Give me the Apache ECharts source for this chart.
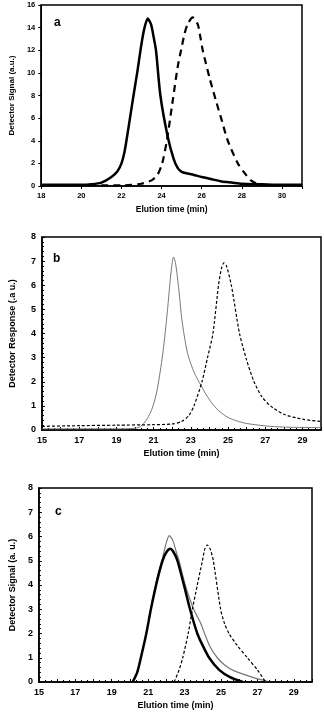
<!DOCTYPE html>
<html><head><meta charset="utf-8">
<script src="https://cdn.jsdelivr.net/npm/echarts@6/dist/echarts.min.js"></script>
<style>html,body{margin:0;padding:0;background:#fff}#c{width:324px;height:713px}</style>
</head><body><div id="c"></div>
<script>
// Panel a
const aSolidX = [18,19,20,20.5,21,21.5,21.8,22.0,22.15,22.3,22.45,22.6,22.8,23.0,23.15,23.31,23.47,23.6,23.72,23.94,24.3,24.6,24.8,25.0,25.3,25.6,26,26.5,27,27.5,28,29,30,31];
const aSolidY = [0.1,0.1,0.1,0.15,0.3,0.8,1.3,2.0,3.0,4.6,6.3,8.0,10.2,12.6,14.0,14.8,14.3,13.2,12.0,8.0,4.4,2.4,1.6,1.25,1.1,0.98,0.8,0.6,0.4,0.3,0.2,0.15,0.1,0.1];
const aDashX = [18,20,21,22,22.5,23,23.5,23.8,24.03,24.26,24.56,24.8,24.97,25.15,25.3,25.55,25.8,25.95,26.05,26.4,26.7,27.0,27.3,27.8,28.2,28.45,28.7,29,30,31];
const aDashY = [0.05,0.05,0.05,0.05,0.1,0.2,0.5,1.0,2.0,4.0,7.6,10.5,12.0,13.5,14.3,14.9,14.3,13.0,12.0,9.5,7.6,5.8,4.0,2.0,1.0,0.5,0.25,0.1,0.05,0.05];
// Panel b
const bSolidX = [15,17,19,20,20.3,20.6,20.85,21.05,21.2,21.35,21.5,21.62,21.75,21.88,21.97,22.07,22.17,22.27,22.4,22.5,22.65,22.82,23.0,23.2,23.45,23.8,24.1,24.5,25.0,25.5,26,27,28,30];
const bSolidY = [0.05,0.05,0.05,0.07,0.15,0.4,0.75,1.2,1.7,2.4,3.2,4.0,5.0,6.1,6.75,7.17,6.95,6.4,5.5,4.7,3.9,3.2,2.75,2.35,1.98,1.5,1.15,0.8,0.52,0.37,0.27,0.17,0.12,0.1];
const bDashX = [15,17,19,21,22,22.5,22.9,23.17,23.6,23.9,24.19,24.49,24.65,24.78,24.92,25.18,25.62,26.0,26.4,26.8,27.28,28,29,30];
const bDashY = [0.15,0.18,0.2,0.22,0.25,0.35,0.6,1.0,2.0,3.0,4.0,6.0,6.7,6.93,6.8,6.0,4.0,2.9,2.0,1.4,1.0,0.65,0.45,0.35];
// Panel c
const cBlackX = [20.15,20.4,20.6,20.9,21.15,21.5,21.79,22.0,22.21,22.4,22.61,23.0,23.3,23.7,24.0,24.35,24.9,25.5,26.2];
const cBlackY = [0,0.4,1.0,2.0,3.0,4.2,5.0,5.35,5.49,5.35,5.0,3.9,3.0,2.0,1.5,1.0,0.5,0.2,0];
const cGreyX = [20.15,20.4,20.6,20.9,21.15,21.5,21.75,22.0,22.16,22.35,22.55,22.7,22.9,23.1,23.3,23.5,23.7,23.9,24.1,24.4,24.8,25.2,25.7,26.5,27.0,27.5];
const cGreyY = [0,0.4,1.0,2.0,3.0,4.3,5.0,5.75,6.04,5.85,5.35,5.0,4.4,3.85,3.4,3.0,2.7,2.4,2.0,1.45,1.0,0.7,0.47,0.25,0.13,0.05];
const cDashX = [22.43,22.7,22.9,23.2,23.43,23.7,23.98,24.12,24.25,24.4,24.58,24.98,25.2,25.44,25.9,26.45,27.0,27.45];
const cDashY = [0,0.5,1.0,2.0,3.0,4.0,5.0,5.5,5.65,5.5,5.0,3.0,2.4,2.0,1.5,1.0,0.5,0];

const xNameA = 'Elution time (min)';
const yNameA = 'Detector Signal (a.u.)';
const yNameB = 'Detector Response (.a u.)';
const yNameC = 'Detector Signal (a. u.)';

const zip = (xs, ys) => xs.map((x, i) => [x, ys[i]]);
const FONT = 'Liberation Sans, Arial, sans-serif';

function xAx(idx, min, max, interval, fs, nameFs, minorN, oddOnly, inside, hideMax) {
  return {
    type: 'value', gridIndex: idx, min: min, max: max, interval: interval,
    name: xNameA, nameLocation: 'middle', nameGap: 19,
    nameTextStyle: {fontFamily: FONT, fontWeight: 'bold', fontSize: nameFs, color: '#000'},
    axisLine: {lineStyle: {color: '#000', width: 1.5}},
    axisTick: {show: true, inside: inside, length: 3, lineStyle: {color: '#000', width: 1}},
    minorTick: {show: minorN > 0, splitNumber: minorN || 5, length: 2, lineStyle: {color: '#000', width: 1}},
    splitLine: {show: false},
    axisLabel: {fontFamily: FONT, fontWeight: 'bold', fontSize: fs, color: '#000', margin: 6,
      formatter: v => {
        if (hideMax && v === max) return '';
        if (oddOnly && (Math.round(v) % 2 === 0)) return '';
        return String(v);
      }}
  };
}
function yAx(idx, max, interval, fs, name, nameFs, gap, minorN, inside) {
  return {
    type: 'value', gridIndex: idx, min: 0, max: max, interval: interval,
    name: name, nameLocation: 'middle', nameGap: gap,
    nameTextStyle: {fontFamily: FONT, fontWeight: 'bold', fontSize: nameFs, color: '#000'},
    axisLine: {show: true, lineStyle: {color: '#000', width: 1.5}},
    axisTick: {show: true, inside: inside, length: 3, lineStyle: {color: '#000', width: 1}},
    minorTick: {show: minorN > 0, splitNumber: minorN || 5, length: 2, lineStyle: {color: '#000', width: 1}},
    splitLine: {show: false},
    axisLabel: {fontFamily: FONT, fontWeight: 'bold', fontSize: fs, color: '#000', margin: 6}
  };
}
function ln(xi, xs, ys, color, width, type) {
  return {type: 'line', xAxisIndex: xi, yAxisIndex: xi, data: zip(xs, ys), smooth: 0.25,
    showSymbol: false, lineStyle: {color: color, width: width, type: type || 'solid', join: 'round'}};
}

const chart = echarts.init(document.getElementById('c'), null, {renderer: 'canvas'});
chart.setOption({
  backgroundColor: '#fff',
  animation: false,
  title: [
    {text: 'a', left: 49, top: 12, textStyle: {fontFamily: FONT, fontWeight: 'bold', fontSize: 12, color: '#000'}},
    {text: 'b', left: 48, top: 248, textStyle: {fontFamily: FONT, fontWeight: 'bold', fontSize: 12, color: '#000'}},
    {text: 'c', left: 50, top: 501, textStyle: {fontFamily: FONT, fontWeight: 'bold', fontSize: 12, color: '#000'}}
  ],
  grid: [
    {left: 40, top: 5, width: 262, height: 181, show: true, borderColor: '#000', borderWidth: 1.5},
    {left: 36, top: 237, width: 286, height: 193, show: true, borderColor: '#000', borderWidth: 1.5},
    {left: 38, top: 488, width: 274, height: 194, show: true, borderColor: '#000', borderWidth: 1.5}
  ],
  xAxis: [
    xAx(0, 18, 31, 2, 7.5, 8.5, 0, false, false, true),
    xAx(1, 15, 30, 1, 9, 9, 3, true, true, false),
    xAx(2, 15, 30, 1, 9, 9, 3, true, true, false)
  ],
  yAxis: [
    yAx(0, 16, 2, 7.5, yNameA, 8, 16, 0, false),
    yAx(1, 8, 1, 9, yNameB, 9, 25, 5, true),
    yAx(2, 8, 1, 9, yNameC, 9, 21, 5, true)
  ],
  series: [
    ln(0, aSolidX, aSolidY, '#000', 2.5),
    ln(0, aDashX, aDashY, '#000', 2.2, [7, 5]),
    ln(1, bSolidX, bSolidY, '#777', 1),
    ln(1, bDashX, bDashY, '#000', 1.2, [3, 2]),
    ln(2, cGreyX, cGreyY, '#777', 1.2),
    ln(2, cBlackX, cBlackY, '#000', 2.5),
    ln(2, cDashX, cDashY, '#000', 1.2, [3, 2])
  ]
});
</script></body></html>
